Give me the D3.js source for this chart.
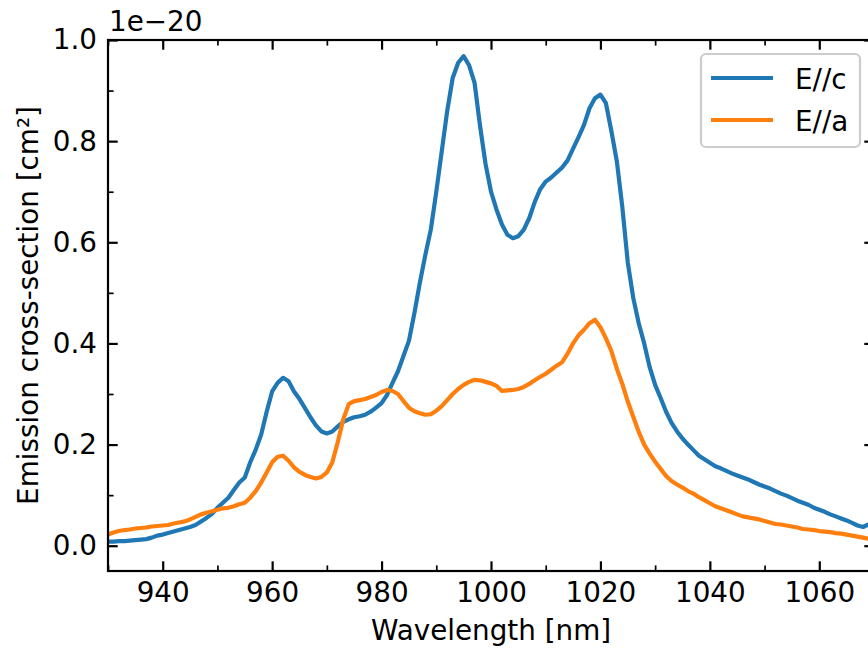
<!DOCTYPE html>
<html><head><meta charset="utf-8">
<script src="https://cdn.jsdelivr.net/npm/d3@7"></script>
<style>
body{margin:0;background:#fff;}
text{font-family:"DejaVu Sans",sans-serif;}
</style></head>
<body><svg id="c" width="868" height="652"></svg>
<script>
// Wavelength grid (nm)
const wavelength = d3.range(930, 1071, 1);
// Emission cross-section, units of 1e-20 cm^2
const eParC = [
0.008,0.008,0.009,0.009,0.010,0.011,0.012,0.013,0.016,0.020,
0.022,0.025,0.028,0.031,0.034,0.037,0.041,0.048,0.055,0.063,
0.075,0.085,0.095,0.110,0.125,0.135,0.165,0.190,0.220,0.265,
0.305,0.322,0.332,0.325,0.305,0.290,0.272,0.254,0.238,0.226,
0.222,0.226,0.236,0.245,0.250,0.254,0.256,0.259,0.265,0.273,
0.282,0.298,0.322,0.345,0.375,0.405,0.460,0.520,0.575,0.625,
0.700,0.780,0.860,0.925,0.955,0.968,0.950,0.915,0.830,0.755,
0.700,0.665,0.635,0.615,0.608,0.612,0.625,0.648,0.680,0.705,
0.720,0.728,0.738,0.748,0.762,0.785,0.808,0.832,0.865,0.885,
0.892,0.875,0.820,0.760,0.670,0.560,0.490,0.440,0.400,0.353,
0.318,0.292,0.265,0.243,0.226,0.212,0.200,0.189,0.178,0.171,
0.164,0.157,0.153,0.148,0.143,0.139,0.135,0.131,0.126,0.121,
0.117,0.113,0.108,0.103,0.099,0.094,0.089,0.085,0.081,0.075,
0.071,0.067,0.062,0.058,0.054,0.050,0.045,0.040,0.037,0.042,
0.040];
const eParA = [
0.022,0.026,0.029,0.031,0.032,0.034,0.035,0.036,0.038,0.039,
0.040,0.041,0.044,0.046,0.048,0.052,0.057,0.062,0.065,0.068,
0.071,0.074,0.075,0.078,0.082,0.085,0.095,0.108,0.125,0.145,
0.165,0.176,0.178,0.168,0.155,0.146,0.140,0.136,0.133,0.136,
0.145,0.165,0.205,0.250,0.280,0.286,0.288,0.290,0.294,0.298,
0.304,0.308,0.306,0.300,0.286,0.273,0.266,0.262,0.259,0.260,
0.267,0.276,0.288,0.300,0.310,0.318,0.324,0.328,0.327,0.324,
0.321,0.316,0.306,0.307,0.308,0.310,0.314,0.320,0.327,0.334,
0.340,0.348,0.356,0.363,0.380,0.400,0.416,0.427,0.440,0.447,
0.432,0.410,0.385,0.350,0.320,0.285,0.255,0.225,0.200,0.182,
0.166,0.152,0.138,0.128,0.121,0.115,0.108,0.103,0.096,0.090,
0.084,0.078,0.074,0.070,0.066,0.062,0.058,0.056,0.054,0.052,
0.049,0.046,0.043,0.042,0.040,0.038,0.036,0.033,0.032,0.031,
0.029,0.028,0.027,0.025,0.024,0.022,0.020,0.018,0.016,0.014,
0.012];
const seriesNames = ["E//c", "E//a"];
const seriesColors = ["#1f77b4", "#ff7f0e"];
const xMajorTicks = [940, 960, 980, 1000, 1020, 1040, 1060];
const xMinorTicks = [930, 950, 970, 990, 1010, 1030, 1050, 1070];
const yMajorTicks = [0.0, 0.2, 0.4, 0.6, 0.8, 1.0];
const yMinorTicks = [0.1, 0.3, 0.5, 0.7, 0.9];

const FS = 27.8;
const L = 108, R = 874, T = 40, B = 571;
const svg = d3.select("#c");
const x = d3.scaleLinear().domain([930, 1070]).range([L, R]);
const y = d3.scaleLinear().domain([-0.05, 1.0]).range([B, T]);

svg.append("defs").append("clipPath").attr("id","clip")
  .append("rect").attr("x",L).attr("y",T).attr("width",R-L).attr("height",B-T);

const series = [eParC, eParA];
const line = d3.line().x(d=>x(d[0])).y(d=>y(d[1]));
series.forEach((vals,i)=>{
  svg.append("path")
    .datum(wavelength.map((w,j)=>[w, vals[j]]))
    .attr("clip-path","url(#clip)")
    .attr("fill","none").attr("stroke",seriesColors[i])
    .attr("stroke-width",4.2).attr("stroke-linejoin","round").attr("stroke-linecap","square")
    .attr("d", line);
});

function styleAxis(g, w){
  g.select(".domain").remove();
  g.selectAll(".tick line").attr("stroke","#000").attr("stroke-width",w);
  g.selectAll("text").attr("font-size",FS).attr("fill","#000").attr("font-family","DejaVu Sans");
}
// bottom
let g = svg.append("g").attr("transform",`translate(0,${B})`)
  .call(d3.axisBottom(x).tickValues(xMajorTicks).tickFormat(d3.format("d")).tickSize(-9.7).tickPadding(11));
styleAxis(g,2.2);
g = svg.append("g").attr("transform",`translate(0,${B})`)
  .call(d3.axisBottom(x).tickValues(xMinorTicks).tickFormat("").tickSize(-5.6));
styleAxis(g,1.7);
// top
g = svg.append("g").attr("transform",`translate(0,${T})`)
  .call(d3.axisTop(x).tickValues(xMajorTicks).tickFormat("").tickSize(-9.7));
styleAxis(g,2.2);
g = svg.append("g").attr("transform",`translate(0,${T})`)
  .call(d3.axisTop(x).tickValues(xMinorTicks).tickFormat("").tickSize(-5.6));
styleAxis(g,1.7);
// left
g = svg.append("g").attr("transform",`translate(${L},0)`)
  .call(d3.axisLeft(y).tickValues(yMajorTicks).tickFormat(d3.format(".1f")).tickSize(-9.7).tickPadding(11));
styleAxis(g,2.2);
g = svg.append("g").attr("transform",`translate(${L},0)`)
  .call(d3.axisLeft(y).tickValues(yMinorTicks).tickFormat("").tickSize(-5.6));
styleAxis(g,1.7);
// right
g = svg.append("g").attr("transform",`translate(${R},0)`)
  .call(d3.axisRight(y).tickValues(yMajorTicks).tickFormat("").tickSize(-9.7));
styleAxis(g,2.2);
g = svg.append("g").attr("transform",`translate(${R},0)`)
  .call(d3.axisRight(y).tickValues(yMinorTicks).tickFormat("").tickSize(-5.6));
styleAxis(g,1.7);

// frame
svg.append("rect").attr("x",L).attr("y",T).attr("width",R-L).attr("height",B-T)
  .attr("fill","none").attr("stroke","#000").attr("stroke-width",2.2);

// labels
svg.append("text").attr("x",(L+R)/2).attr("y",640).attr("text-anchor","middle")
  .attr("font-size",FS).text("Wavelength [nm]");
svg.append("text").attr("transform",`translate(38,${(T+B)/2}) rotate(-90)`)
  .attr("text-anchor","middle").attr("font-size",FS).text("Emission cross-section [cm²]");
svg.append("text").attr("x",109).attr("y",31).attr("font-size",FS).text("1e\u221220");

// legend
const lg = svg.append("g");
lg.append("rect").attr("x",701).attr("y",54).attr("width",159).attr("height",93).attr("rx",5)
  .attr("fill","#fff").attr("fill-opacity",0.8).attr("stroke","#cccccc").attr("stroke-width",2.2);
const rowY = [78, 120];
seriesNames.forEach((n,i)=>{
  lg.append("line").attr("x1",711).attr("x2",773).attr("y1",rowY[i]).attr("y2",rowY[i])
    .attr("stroke",seriesColors[i]).attr("stroke-width",4.2);
  lg.append("text").attr("x",795).attr("y",rowY[i]+10.5).attr("font-size",FS).text(n);
});
</script></body></html>
